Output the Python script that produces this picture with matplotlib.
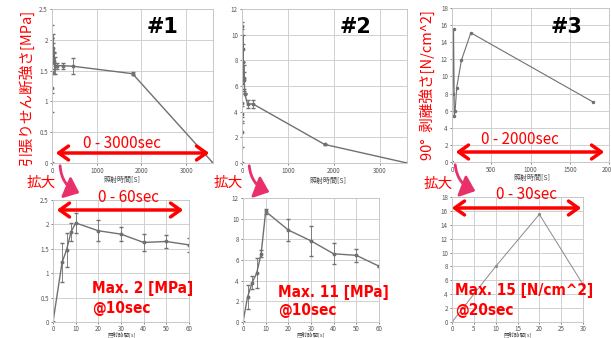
import matplotlib
matplotlib.use('Agg')
import matplotlib.pyplot as plt
from matplotlib import font_manager
from matplotlib.patches import FancyArrowPatch

plt.rcParams['font.family'] = ['Noto Sans CJK JP', 'DejaVu Sans']

W, H = 611, 338

# --- data ---
# #1 tensile shear strength [MPa]
t1 = [0, 4, 6, 8, 10, 20, 30, 40, 50, 60, 120, 240, 480, 1800, 3600]
s1 = [0, 1.22, 1.48, 1.85, 2.03, 1.87, 1.80, 1.63, 1.65, 1.58, 1.58, 1.58, 1.57, 1.45, 0]
e1 = [0, 0.40, 0.35, 0.18, 0.21, 0.22, 0.15, 0.18, 0.13, 0.14, 0.05, 0.05, 0.13, 0.02, 0]

# #2 tensile shear strength [MPa]
t2 = [0, 2, 4, 6, 8, 10, 20, 30, 40, 50, 60, 120, 240, 1800, 3600]
s2 = [0, 2.4, 3.8, 4.7, 6.6, 10.7, 8.9, 7.85, 6.6, 6.45, 5.4, 4.6, 4.6, 1.45, 0]
e2 = [0, 1.15, 0.65, 1.45, 0.35, 0.25, 1.05, 1.45, 1.0, 0.65, 0.05, 0.3, 0.3, 0.05, 0]

# #3 90 deg peel strength [N/cm^2]
t3 = [0, 10, 20, 30, 40, 60, 120, 240, 1800]
s3 = [0, 8.0, 15.5, 5.4, 6.0, 8.7, 11.9, 15.1, 7.0]

xlabel = '照射時間[S]'
xlabel_small = '照射時間[s]'
GREY = '#707070'

# condensed bold font for the annotations, if one is installed
cond = [f.name for f in font_manager.fontManager.ttflist
        if f.stretch in ('condensed', 'semi-condensed', 'extra-condensed') or 'Narrow' in f.name]
NARROW = [n for n in ['Liberation Sans Narrow', 'DejaVu Sans Condensed'] if n in cond] + ['DejaVu Sans']


def axes_px(fig, left, top, right, bottom):
    return fig.add_axes([left / W, 1 - bottom / H, (right - left) / W, (bottom - top) / H])


def px(x, y):
    return (x / W, 1 - y / H)


def style(ax, xlim, ylim, xt, yt, pad=1.5):
    ax.set_xlim(*xlim)
    ax.set_ylim(*ylim)
    ax.set_xticks(xt)
    ax.set_yticks(yt)
    ax.grid(True, color='#d0d0d0', lw=0.7)
    ax.set_axisbelow(True)
    ax.tick_params(labelsize=4.5, colors='#555555', length=1.5, width=0.5, pad=1.5)
    ax.tick_params(axis='x', pad=pad)
    for s in ax.spines.values():
        s.set_color('#c8c8c8')
        s.set_linewidth(0.7)
    ax.yaxis.set_major_formatter(matplotlib.ticker.FuncFormatter(lambda v, p: f'{v:g}'))


fig = plt.figure(figsize=(W / 100, H / 100), dpi=100)

# top row
ax1 = axes_px(fig, 52, 9, 213, 163)
ax1.errorbar(t1, s1, yerr=e1, color=GREY, lw=1, marker='o', ms=1.8, capsize=1.5, elinewidth=0.6)
style(ax1, (0, 3600), (0, 2.5), [0, 1000, 2000, 3000], [0, 0.5, 1, 1.5, 2, 2.5])

ax2 = axes_px(fig, 242, 9, 407, 163)
ax2.errorbar(t2, s2, yerr=e2, color=GREY, lw=1, marker='o', ms=1.8, capsize=1.5, elinewidth=0.6)
style(ax2, (0, 3600), (0, 12), [0, 1000, 2000, 3000], range(0, 13, 2))

ax3 = axes_px(fig, 452, 8, 609, 162)
ax3.plot(t3, s3, color=GREY, lw=0.8, marker='o', ms=1.5)
style(ax3, (0, 2000), (0, 18), [0, 500, 1000, 1500, 2000], range(0, 19, 2))

# bottom row (zoom in)
b1 = axes_px(fig, 53, 200, 189, 322)
b1.errorbar(t1[:10], s1[:10], yerr=e1[:10], color=GREY, lw=1, marker='o', ms=1.8, capsize=1.5, elinewidth=0.6)
style(b1, (0, 60), (0, 2.5), range(0, 61, 10), [0, 0.5, 1, 1.5, 2, 2.5], pad=0.8)

b2 = axes_px(fig, 243, 198, 379, 322)
b2.errorbar(t2[:11], s2[:11], yerr=e2[:11], color=GREY, lw=1, marker='o', ms=1.8, capsize=1.5, elinewidth=0.6)
style(b2, (0, 60), (0, 12), range(0, 61, 10), range(0, 13, 2), pad=0.8)

b3 = axes_px(fig, 452, 197, 583, 322)
b3.plot(t3[:4], s3[:4], color='#8a8a8a', lw=0.7, marker='o', ms=1.3)
style(b3, (0, 30), (0, 18), range(0, 31, 5), range(0, 19, 2), pad=0.8)

# axis labels
for x, y, s in [(122, 180, xlabel), (328, 181, xlabel), (532, 178, xlabel)]:
    fig.text(*px(x, y), s, fontsize=5, color='#444444', ha='center', va='center')
for x, s in [(122, xlabel_small), (311, xlabel_small), (518, xlabel_small)]:
    fig.text(*px(x, 338.5), s, fontsize=4, color='#444444', ha='center', va='bottom')

fig.text(*px(26, 87), '引張りせん断強さ[MPa]', color='red', fontsize=10.5,
         rotation=90, ha='center', va='center')
fig.text(*px(427, 85), '90°  剥離強さ[N/cm^2]', color='red', fontsize=10.5,
         rotation=90, ha='center', va='center')

# panel numbers
for x, s in [(163, '#1'), (356, '#2'), (567, '#3')]:
    fig.text(*px(x, 27), s, fontsize=15, fontweight='bold', ha='center', va='center',
             color='black', family=NARROW)

# red double arrows with range text
for x0, x1, y, tx, ty, s in [(53, 212, 153, 122, 143, '0 - 3000sec'),
                             (453, 607, 152, 520, 140, '0 - 2000sec'),
                             (54, 186, 210, 128, 197, '0 - 60sec'),
                             (449, 584, 208, 527, 194, '0 - 30sec')]:
    fig.patches.append(FancyArrowPatch(px(x0, y), px(x1, y), transform=fig.transFigure,
                                       arrowstyle='<->,head_length=0.7,head_width=0.5',
                                       mutation_scale=10, lw=2.5, color='red'))
    fig.text(*px(tx, ty), s, color='red', fontsize=11, ha='center', va='center')

# zoom labels and curved arrows
for x, y in [(41, 183), (228, 183), (438, 184)]:
    fig.text(*px(x, y), '拡大', color='red', fontsize=10.5, ha='center', va='center')

for (x0, y0), (x1, y1) in [((60, 163), (82, 194)), ((249, 163), (272, 193)), ((455, 162), (478, 192))]:
    fig.patches.append(FancyArrowPatch(px(x0, y0), px(x1, y1), transform=fig.transFigure,
                                       connectionstyle='arc3,rad=0.35',
                                       arrowstyle='-|>,head_length=0.6,head_width=0.5',
                                       mutation_scale=14, lw=2, color='#e8306a'))

# max annotations
for x, y, s in [(92, 289, 'Max. 2 [MPa]'), (278, 292, 'Max. 11 [MPa]'), (455, 291, 'Max. 15 [N/cm^2]')]:
    fig.text(*px(x, y), s, color='red', fontsize=11, fontweight='bold', ha='left', va='center',
             family=NARROW, fontstretch='condensed')
for x, y in [(92, 309), (278, 311), (455, 310)]:
    fig.text(*px(x, y), '@10sec' if x < 400 else '@20sec', color='red', fontsize=11,
             fontweight='bold', ha='left', va='center', family=NARROW, fontstretch='condensed')

fig.savefig('out.png', dpi=100)
